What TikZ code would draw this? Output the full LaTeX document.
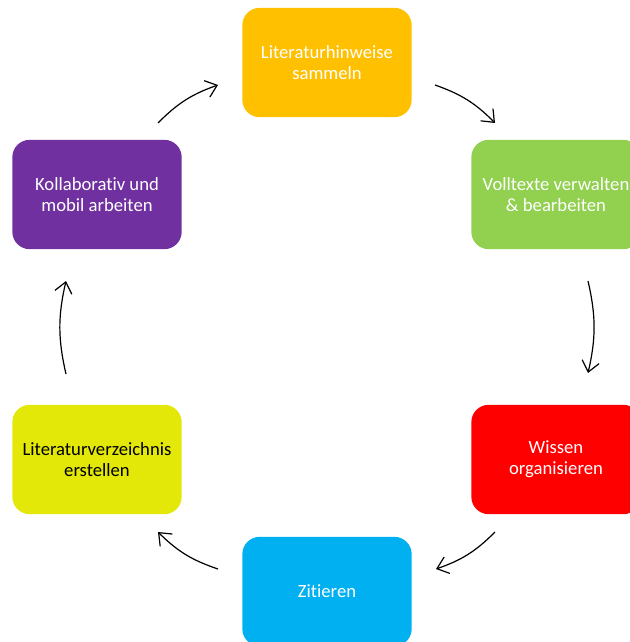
\documentclass[tikz,border=0pt]{standalone}
\usepackage{fontspec}
\setmainfont{Carlito}[Ligatures={NoCommon}]
\usetikzlibrary{arrows.meta}

\definecolor{orangegelb}{HTML}{FFC000}
\definecolor{hellgruen}{HTML}{92D050}
\definecolor{knallrot}{HTML}{FF0000}
\definecolor{himmelblau}{HTML}{00B0F0}
\definecolor{zitronengelb}{HTML}{E3E809}
\definecolor{lila}{HTML}{7030A0}

\begin{document}
\begin{tikzpicture}[x=0.75pt,y=-0.75pt,
					>={Straight Barb[length=8pt,width=13pt]},
					line width=0.9pt,
					phase/.style={rectangle,rounded corners=13pt,minimum width=127pt,
						minimum height=82pt,align=center,text=white,
						font=\fontsize{14}{15.75}\selectfont},
					pfeil/.style={->,bend left=13}]

  \useasboundingbox (0,0) rectangle (630,642);
  \clip (0,0) rectangle (630,642);

  \node[phase,fill=orangegelb] (sammeln) at (327,62.5) {Literaturhinweise\\sammeln};
  \node[phase,fill=hellgruen] (volltexte) at (556,194.5) {Volltexte verwalten\\\& bearbeiten};
  \node[phase,fill=knallrot] (wissen) at (556,459.5) {Wissen\\organisieren};
  \node[phase,fill=himmelblau] (zitieren) at (327,591.5) {Zitieren};
  \node[phase,fill=zitronengelb,text=black] (verzeichnis) at (97,459.5) {Literaturverzeichnis\\erstellen};
  \node[phase,fill=lila] (kollab) at (97,194.5) {Kollaborativ und\\mobil arbeiten};

  % freie Pfeilenden
  \coordinate (p1a) at (435,85);  \coordinate (p1b) at (495,123);
  \coordinate (p2a) at (588,281); \coordinate (p2b) at (588,373);
  \coordinate (p3a) at (495,532); \coordinate (p3b) at (436,569);
  \coordinate (p4a) at (218,569); \coordinate (p4b) at (158,532);
  \coordinate (p5a) at (66,374);  \coordinate (p5b) at (66,281);
  \coordinate (p6a) at (158,123); \coordinate (p6b) at (218,85);

  \path[pfeil]
    (p1a) edge (p1b)
    (p2a) edge (p2b)
    (p3a) edge (p3b)
    (p4a) edge (p4b)
    (p5a) edge (p5b)
    (p6a) edge (p6b);
\end{tikzpicture}
\end{document}
